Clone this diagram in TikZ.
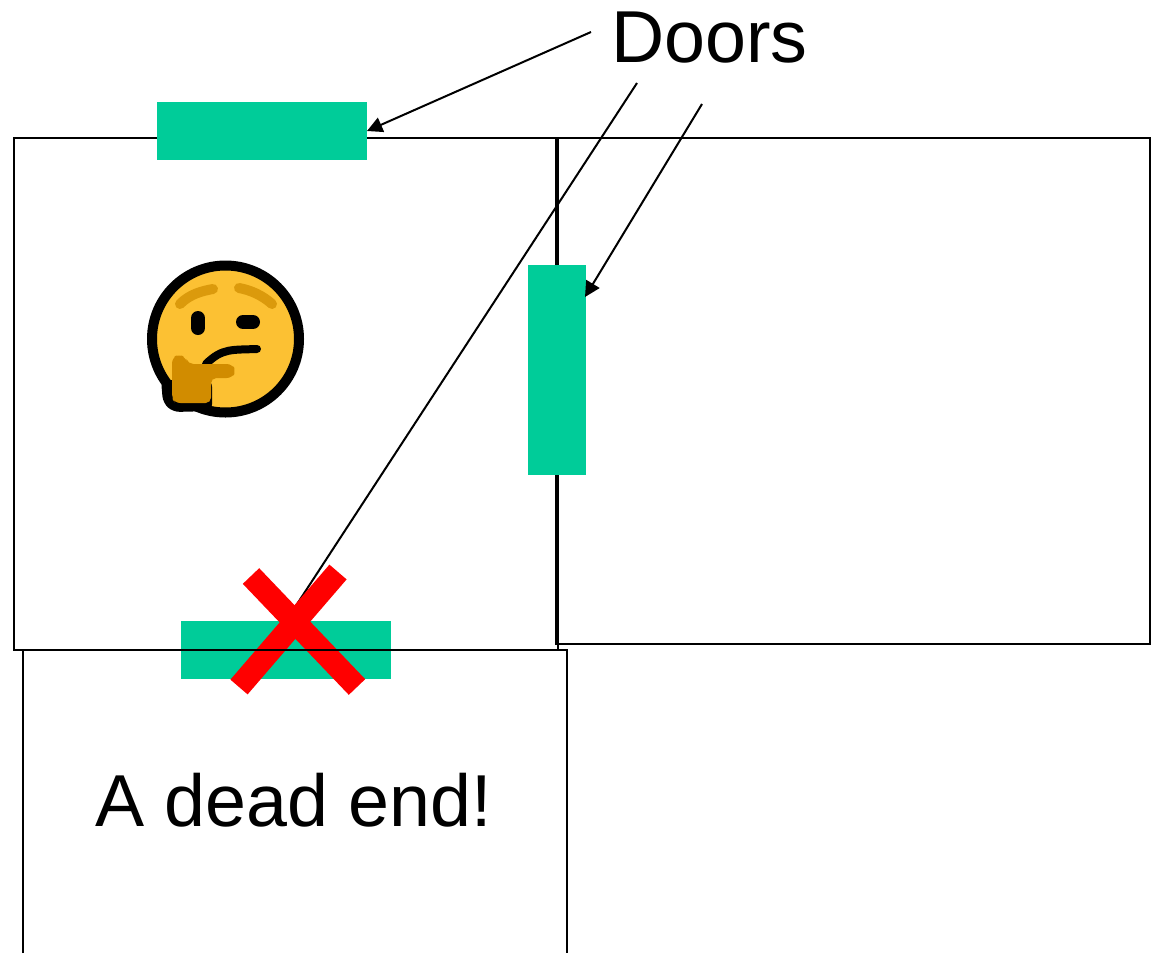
\documentclass[tikz,border=0pt]{standalone}
\usepackage{fontspec}
\setmainfont{Liberation Sans}
\usetikzlibrary{arrows.meta}
\definecolor{doorgreen}{HTML}{00CC99}
\definecolor{facey}{HTML}{FCC133}
\definecolor{hando}{HTML}{D18C00}
\definecolor{browc}{HTML}{DB9A0C}
\tikzset{
  roomline/.style={draw=black,line width=1.55pt},
  door/.style={fill=doorgreen,draw=none,inner sep=0pt,outer sep=0pt,rectangle},
  hdoor/.style={door,minimum width=157.5pt,minimum height=43.5pt},
  vdoor/.style={door,minimum width=43.5pt,minimum height=157.5pt},
  pointer/.style={draw=black,line width=1.5pt,-{Triangle[length=11.5pt,width=11.5pt]},shorten >=0pt},
  bigtext/.style={font=\fontsize{55.2}{60}\selectfont,anchor=base,inner sep=0pt},
  redbar/.style={draw={rgb,255:red,255;green,0;blue,0},line width=17pt},
  emline/.style={draw=black,line width=6pt,line cap=round},
  brow/.style={draw=browc,line width=7.5pt,line cap=round},
}
\begin{document}
\begin{tikzpicture}[x=0.75pt,y=-0.75pt]
\useasboundingbox (0,0) rectangle (1155,953);
% rooms
\draw[roomline] (14,138) rectangle (558,650);
\draw[roomline] (556,138) rectangle (1150,644);
% doors
\node[hdoor] (topdoor) at (262,131) {};
\node[vdoor] (sidedoor) at (557,369.5) {};
\node[hdoor] (deaddoor) at (286,650) {};
% label and pointer ends
\node[bigtext] (doors) at (709.5,62) {Doors};
\node[bigtext] (deadend) at (293.5,826) {A dead end!};
\coordinate (s1) at (591,32);
\coordinate (s2) at (637,83);
\coordinate (s3) at (702,104);
\coordinate (e3) at (585,297);
\draw[pointer] (s1) -- (topdoor.east);
\draw[pointer] (s3) -- (e3);
\draw[pointer] (s2) -- (deaddoor.north);
% red cross
\coordinate (xa) at (251,576);
\coordinate (xb) at (357,687);
\coordinate (xc) at (338,572);
\coordinate (xd) at (239,687);
\draw[redbar] (xa) -- (xb);
\draw[redbar] (xc) -- (xd);
% lower room, open at the picture's edge
\draw[roomline] (23,953) -- (23,650) -- (567,650) -- (567,953);
% thinking face
\filldraw[fill=facey,draw=black,line width=7.5pt] (225.5,339) circle (73.5);
\fill[black,rounded corners=5pt] (161,380) -- (163,403) -- (173,412) -- (212,411) -- (212,380) -- cycle;
\draw[brow] (180,304) .. controls (190,294) and (202,291) .. (213,289);
\draw[brow] (239,288) .. controls (250,290) and (262,295) .. (272,304);
\draw[emline,line width=10.5pt] (198,318) -- (198,328);
\draw[emline,line width=10.5pt] (243,322) -- (253,322);
\draw[emline] (206,364) .. controls (222,348) and (232,350) .. (257,349);
% hand
\fill[hando,rounded corners=4pt] (172,358) -- (179,354) -- (186,358) -- (188,364) -- (232,364) -- (236,371) -- (232,378) -- (211,378) -- (211,403) -- (175,403) -- (172,398) -- cycle;
\end{tikzpicture}
\end{document}
